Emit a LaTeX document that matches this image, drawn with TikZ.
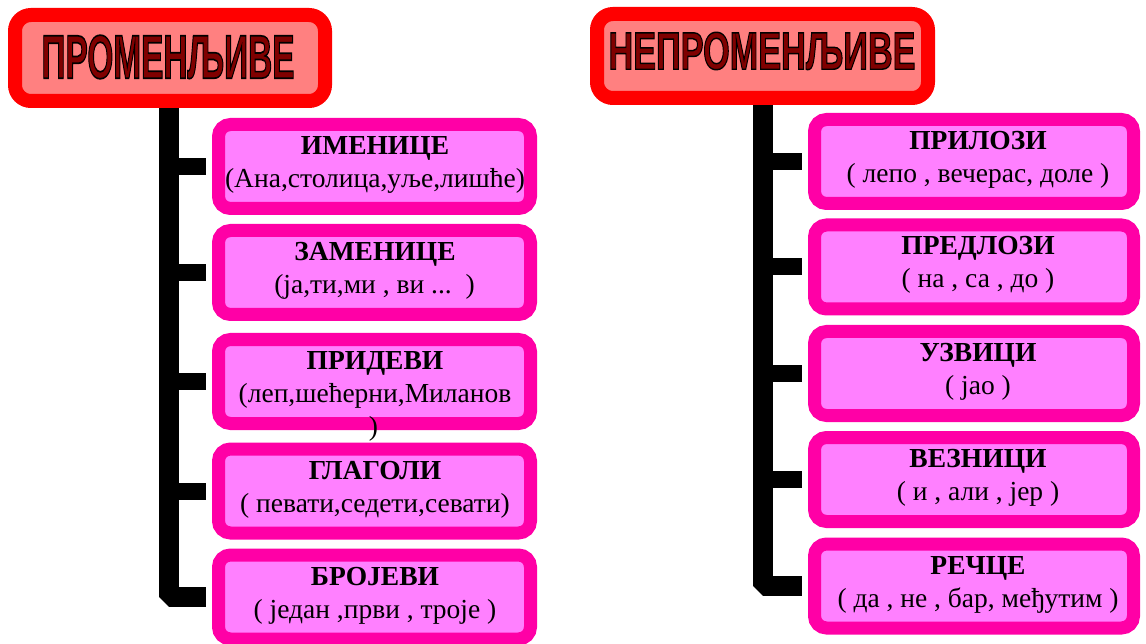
\documentclass[tikz,border=0pt]{standalone}
\usepackage{fontspec}
\setmainfont{Liberation Serif}
\newfontfamily\ttlfont{Liberation Sans}
\usepackage{graphicx}
\usetikzlibrary{calc}
\definecolor{ttlred}{HTML}{FF0000}
\definecolor{ttlfill}{HTML}{FF8080}
\definecolor{ttltxt}{HTML}{800000}
\definecolor{boxline}{HTML}{FF00A6}
\definecolor{boxfill}{HTML}{FF80FF}
\newcommand{\outltxt}[1]{\textcolor{ttltxt}{\special{pdf:literal direct 0 0 0 RG 1.1 w 2 Tr}#1\special{pdf:literal direct 0 Tr}}}
\newcommand{\ttlword}[3]{\resizebox{#1}{#2}{\ttlfont\bfseries\fontsize{40}{40}\selectfont\outltxt{#3}}}
\begin{document}
\begin{tikzpicture}[x=1pt,y=-1pt,
  ttlbox/.style={draw=ttlred, fill=ttlfill, line width=14pt, rounded corners=16pt, inner sep=0pt},
  ttltext/.style={inner sep=0pt},
  partbox/.style={draw=boxline, fill=boxfill, line width=13pt, rounded corners=12pt, minimum height=84pt, inner sep=0pt},
  lbox/.style={partbox, minimum width=312pt},
  rbox/.style={partbox, minimum width=319pt},
  headtxt/.style={font=\bfseries\fontsize{27.5}{33}\selectfont, anchor=base, inner sep=0pt},
  bodytxt/.style={font=\fontsize{27.5}{33}\selectfont, anchor=base, inner sep=0pt},
  bar/.style={line width=20pt, line join=bevel, draw=black},
  stub/.style={line width=17pt, draw=black, shorten >=6.5pt}
]
\useasboundingbox (0,0) rectangle (1146,644);
\fill[white] (0,0) rectangle (1146,644);

% titles
\node[ttlbox, minimum width=310pt, minimum height=86pt] (Lttl) at (170,58) {};
\node[ttltext] (LttlT) at (168,57) {\ttlword{253pt}{43pt}{ПРОМЕНЉИВЕ}};
\node[ttlbox, minimum width=331pt, minimum height=84pt] (Rttl) at (762.5,56) {};
\node[ttltext] (RttlT) at (762,51) {\ttlword{307pt}{37pt}{НЕПРОМЕНЉИВЕ}};

% left boxes
\node[lbox] (L1) at (374.5,166.5) {};
\node[lbox] (L2) at (374.5,272.5) {};
\node[lbox] (L3) at (374.5,381.5) {};
\node[lbox] (L4) at (374.5,491) {};
\node[lbox] (L5) at (374.5,597) {};
% right boxes
\node[rbox] (R1) at (974,161.5) {};
\node[rbox] (R2) at (974,267) {};
\node[rbox] (R3) at (974,373.5) {};
\node[rbox] (R4) at (974,479.5) {};
\node[rbox] (R5) at (974,586) {};

% connectors
\coordinate (Ltop) at (169,108);
\coordinate (Rtop) at (762.5,105);
\draw[bar, shorten >=6.5pt] (Ltop) -- (Ltop |- L5.west) -- (L5.west);
\draw[bar, shorten >=6.5pt] (Rtop) -- (Rtop |- R5.west) -- (R5.west);
\foreach \n in {L1,L2,L3,L4}{\draw[stub] (Ltop |- \n.west) -- (\n.west);}
\foreach \n in {R1,R2,R3,R4}{\draw[stub] (Rtop |- \n.west) -- (\n.west);}

% left texts
\node[headtxt] (L1h) at ($(L1)+(0.5,-12)$) {ИМЕНИЦЕ};
\node[bodytxt] (L1b) at ($(L1)+(0.5,21)$) {(Ана,столица,уље,лишће)};
\node[headtxt] (L2h) at ($(L2)+(0.5,-12)$) {ЗАМЕНИЦЕ};
\node[bodytxt] (L2b) at ($(L2)+(0,21)$) {(ја,ти,ми , ви ...\ \ )};
\node[headtxt] (L3h) at ($(L3)+(0.5,-12)$) {ПРИДЕВИ};
\node[bodytxt] (L3b) at ($(L3)+(0.5,21)$) {(леп,шећерни,Миланов};
\node[bodytxt] (L3c) at ($(L3)+(-1,54)$) {)};
\node[headtxt] (L4h) at ($(L4)+(0.5,-12)$) {ГЛАГОЛИ};
\node[bodytxt] (L4b) at ($(L4)+(0.5,21)$) {( певати,седети,севати)};
\node[headtxt] (L5h) at ($(L5)+(0.5,-12)$) {БРОЈЕВИ};
\node[bodytxt] (L5b) at ($(L5)+(0.5,21)$) {( један ,први , троје )};

% right texts
\node[headtxt] (R1h) at ($(R1)+(4,-12)$) {ПРИЛОЗИ};
\node[bodytxt] (R1b) at ($(R1)+(4,21)$) {(\ лепо , вечерас, доле\ )};
\node[headtxt] (R2h) at ($(R2)+(4,-12)$) {ПРЕДЛОЗИ};
\node[bodytxt] (R2b) at ($(R2)+(4,21)$) {(\ на , са , до\ )};
\node[headtxt] (R3h) at ($(R3)+(4,-12)$) {УЗВИЦИ};
\node[bodytxt] (R3b) at ($(R3)+(4,21)$) {( јао )};
\node[headtxt] (R4h) at ($(R4)+(4,-12)$) {ВЕЗНИЦИ};
\node[bodytxt] (R4b) at ($(R4)+(4,21)$) {( и , али , јер )};
\node[headtxt] (R5h) at ($(R5)+(4,-12)$) {РЕЧЦЕ};
\node[bodytxt] (R5b) at ($(R5)+(4,21)$) {( да , не , бар, међутим )};
\end{tikzpicture}
\end{document}
